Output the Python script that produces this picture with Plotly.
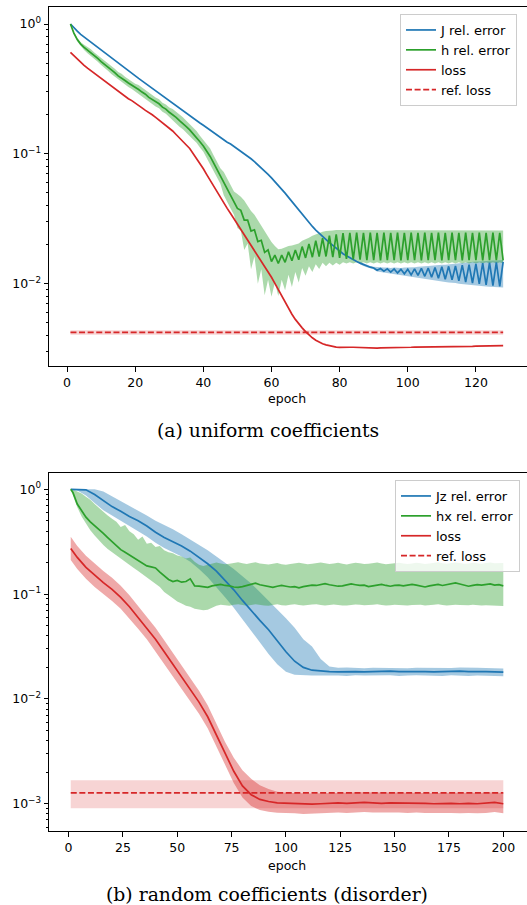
import plotly.graph_objects as go

# ---------------- (a) uniform coefficients ----------------
epochs_a = list(range(1, 129))

J_rel = [1.000, 0.933, 0.881, 0.832, 0.794, 0.759, 0.724, 0.692, 0.661, 0.631,
         0.603, 0.575, 0.550, 0.525, 0.501, 0.479, 0.457, 0.437, 0.417, 0.398,
         0.381, 0.365, 0.349, 0.334, 0.320, 0.306, 0.293, 0.281, 0.269, 0.257,
         0.246, 0.236, 0.225, 0.216, 0.207, 0.198, 0.189, 0.181, 0.173, 0.166,
         0.159, 0.152, 0.146, 0.139, 0.133, 0.128, 0.123, 0.119, 0.114, 0.110,
         0.105, 0.101, 0.0962, 0.0916, 0.0871, 0.0826, 0.0782, 0.0738, 0.0695, 0.0653,
         0.0612, 0.0573, 0.0535, 0.0498, 0.0462, 0.0429, 0.0397, 0.0368, 0.0341, 0.0317,
         0.0295, 0.0276, 0.0259, 0.0244, 0.0230, 0.0218, 0.0207, 0.0197, 0.0187, 0.0178,
         0.0170, 0.0164, 0.0158, 0.0153, 0.0148, 0.0144, 0.0140, 0.0137, 0.0134, 0.0132,
         0.0127, 0.0131, 0.0125, 0.0130, 0.0123, 0.0130, 0.0121, 0.0129, 0.0119, 0.0129,
         0.0117, 0.0130, 0.0116, 0.0131, 0.0114, 0.0132, 0.0112, 0.0133, 0.0110, 0.0135,
         0.0108, 0.0136, 0.0107, 0.0137, 0.0105, 0.0139, 0.0103, 0.0140, 0.0101, 0.0142,
         0.00995, 0.0144, 0.00980, 0.0145, 0.00966, 0.0146, 0.00955, 0.0147]

J_band_epochs = list(range(86, 129))
J_lo = [0.0141, 0.0137, 0.0134, 0.0131, 0.0129, 0.0124, 0.0123, 0.0122, 0.0121, 0.0120,
        0.0118, 0.0117, 0.0116, 0.0115, 0.0114, 0.0113, 0.0112, 0.0111, 0.0110, 0.0109,
        0.0108, 0.0107, 0.0106, 0.0105, 0.0104, 0.0103, 0.0102, 0.0101, 0.0101, 0.0100,
        0.00990, 0.00985, 0.00978, 0.00970, 0.00965, 0.00960, 0.00955, 0.00950, 0.00945, 0.00940,
        0.00938, 0.00935, 0.00935]
J_hi = [0.0147, 0.0143, 0.0140, 0.0137, 0.0135, 0.0134, 0.0134, 0.0133, 0.0133, 0.0132,
        0.0133, 0.0132, 0.0132, 0.0133, 0.0133, 0.0134, 0.0134, 0.0135, 0.0135, 0.0136,
        0.0137, 0.0138, 0.0138, 0.0139, 0.0140, 0.0140, 0.0141, 0.0142, 0.0142, 0.0143,
        0.0144, 0.0145, 0.0146, 0.0147, 0.0148, 0.0148, 0.0149, 0.0150, 0.0150, 0.0151,
        0.0151, 0.0152, 0.0152]

h_rel = [1.0, 0.851, 0.759, 0.700, 0.661, 0.631, 0.603, 0.569, 0.543, 0.513,
         0.490, 0.468, 0.442, 0.422, 0.398, 0.385, 0.367, 0.351, 0.339, 0.324,
         0.313, 0.299, 0.288, 0.272, 0.263, 0.251, 0.243, 0.229, 0.221, 0.209,
         0.200, 0.191, 0.180, 0.172, 0.162, 0.153, 0.143, 0.135, 0.124, 0.115,
         0.105, 0.0955, 0.0851, 0.0759, 0.0676, 0.0603, 0.0537, 0.0479, 0.0427, 0.0380,
         0.0367, 0.0309, 0.0309, 0.0254, 0.0260, 0.0211, 0.0216, 0.0174, 0.0182, 0.0148,
         0.0166, 0.0143, 0.0166, 0.0146, 0.0176, 0.0150, 0.0182, 0.0153, 0.0193, 0.0158,
         0.0202, 0.0160, 0.0214, 0.0162, 0.0224, 0.0162, 0.0234, 0.0160, 0.0240, 0.0158,
         0.0245, 0.0155, 0.0246, 0.0154, 0.0247, 0.0153, 0.0246, 0.0152, 0.0247, 0.0152,
         0.0246, 0.0151, 0.0247, 0.0152, 0.0246, 0.0152, 0.0247, 0.0151, 0.0246, 0.0152,
         0.0247, 0.0152, 0.0246, 0.0151, 0.0247, 0.0152, 0.0246, 0.0152, 0.0247, 0.0151,
         0.0246, 0.0152, 0.0247, 0.0152, 0.0246, 0.0151, 0.0247, 0.0152, 0.0246, 0.0152,
         0.0247, 0.0151, 0.0246, 0.0152, 0.0247, 0.0152, 0.0246, 0.0151]

h_hi = [1.0, 0.871, 0.785, 0.724, 0.692, 0.668, 0.638, 0.603, 0.575, 0.543,
        0.525, 0.502, 0.474, 0.452, 0.427, 0.413, 0.393, 0.376, 0.363, 0.347,
        0.339, 0.324, 0.312, 0.295, 0.285, 0.272, 0.263, 0.248, 0.240, 0.227,
        0.222, 0.212, 0.200, 0.191, 0.180, 0.170, 0.159, 0.150, 0.138, 0.128,
        0.121, 0.110, 0.0977, 0.0871, 0.0776, 0.0725, 0.0645, 0.0576, 0.0513, 0.0490,
        0.0468, 0.0437, 0.0398, 0.0363, 0.0339, 0.0309, 0.0282, 0.0257, 0.0229, 0.0209,
        0.0195, 0.0184, 0.0186, 0.0191, 0.0195, 0.0197, 0.0200, 0.0204, 0.0214, 0.0219,
        0.0226, 0.0234, 0.0240, 0.0245, 0.0251, 0.0254, 0.0257, 0.0257, 0.0259, 0.0259,
        0.0260, 0.0257, 0.0260, 0.0257, 0.0260, 0.0257, 0.0260, 0.0257, 0.0260, 0.0257,
        0.0260, 0.0257, 0.0260, 0.0257, 0.0260, 0.0257, 0.0260, 0.0257, 0.0260, 0.0257,
        0.0260, 0.0257, 0.0260, 0.0257, 0.0260, 0.0257, 0.0260, 0.0257, 0.0260, 0.0257,
        0.0260, 0.0257, 0.0260, 0.0257, 0.0260, 0.0257, 0.0260, 0.0257, 0.0260, 0.0257,
        0.0260, 0.0257, 0.0260, 0.0257, 0.0260, 0.0257, 0.0260, 0.0257]

h_lo = [1.0, 0.832, 0.733, 0.676, 0.631, 0.596, 0.569, 0.537, 0.513, 0.484,
        0.457, 0.437, 0.412, 0.394, 0.371, 0.359, 0.342, 0.327, 0.316, 0.302,
        0.289, 0.276, 0.266, 0.251, 0.243, 0.232, 0.224, 0.211, 0.204, 0.193,
        0.180, 0.172, 0.162, 0.155, 0.146, 0.138, 0.129, 0.122, 0.112, 0.104,
        0.0915, 0.0832, 0.0741, 0.0661, 0.0589, 0.0479, 0.0426, 0.0380, 0.0339, 0.0269,
        0.0257, 0.0182, 0.0204, 0.0129, 0.0162, 0.0100, 0.0129, 0.00813, 0.0107, 0.00794,
        0.0102, 0.00804, 0.0107, 0.00891, 0.0117, 0.00944, 0.0123, 0.0102, 0.0132, 0.0115,
        0.0136, 0.0123, 0.0141, 0.0130, 0.0145, 0.0136, 0.0145, 0.0138, 0.0145, 0.0140,
        0.0146, 0.0143, 0.0146, 0.0143, 0.0146, 0.0143, 0.0146, 0.0143, 0.0146, 0.0143,
        0.0146, 0.0143, 0.0146, 0.0143, 0.0146, 0.0143, 0.0146, 0.0143, 0.0146, 0.0143,
        0.0146, 0.0143, 0.0146, 0.0143, 0.0146, 0.0143, 0.0146, 0.0143, 0.0146, 0.0143,
        0.0146, 0.0143, 0.0146, 0.0143, 0.0146, 0.0143, 0.0146, 0.0143, 0.0146, 0.0143,
        0.0146, 0.0143, 0.0146, 0.0143, 0.0146, 0.0143, 0.0146, 0.0143]

loss_a = [0.605, 0.569, 0.537, 0.507, 0.481, 0.457, 0.437, 0.417, 0.398, 0.380,
          0.363, 0.347, 0.331, 0.316, 0.302, 0.288, 0.279, 0.266, 0.257, 0.245,
          0.234, 0.226, 0.216, 0.209, 0.200, 0.191, 0.182, 0.174, 0.166, 0.158,
          0.150, 0.141, 0.133, 0.126, 0.117, 0.110, 0.101, 0.0923, 0.0841, 0.0767,
          0.0692, 0.0624, 0.0562, 0.0507, 0.0457, 0.0417, 0.0380, 0.0347, 0.0316, 0.0288,
          0.0263, 0.0240, 0.0219, 0.0200, 0.0182, 0.0166, 0.0151, 0.0138, 0.0124, 0.0112,
          0.01005, 0.00899, 0.00805, 0.00721, 0.00646, 0.00582, 0.00531, 0.00490, 0.00457, 0.00427,
          0.00403, 0.00383, 0.00367, 0.00355, 0.00345, 0.00338, 0.00333, 0.00328, 0.00325, 0.00323,
          0.00322, 0.00322, 0.00324, 0.00324, 0.00323, 0.00321, 0.00319, 0.00318, 0.00318, 0.00318,
          0.00319, 0.00320, 0.00320, 0.00321, 0.00321, 0.00322, 0.00322, 0.00323, 0.00323, 0.00324,
          0.00324, 0.00325, 0.00325, 0.00325, 0.00326, 0.00326, 0.00326, 0.00327, 0.00327, 0.00327,
          0.00328, 0.00328, 0.00328, 0.00328, 0.00329, 0.00329, 0.00329, 0.00329, 0.00329, 0.00330,
          0.00330, 0.00331, 0.00331, 0.00332, 0.00332, 0.00332, 0.00333, 0.00333]

ref_loss_a = 0.00421
ref_loss_a_lo = 0.00405
ref_loss_a_hi = 0.00438

# ---------------- (b) random coefficients (disorder) ----------------
epochs_b4 = [1] + list(range(4, 201, 4))
epochs_b2 = [1] + list(range(2, 201, 2))

Jz_rel = [1.0, 1.0, 0.989, 0.891, 0.776, 0.684, 0.617, 0.550, 0.501, 0.447,
          0.389, 0.347, 0.316, 0.288, 0.257, 0.224, 0.195, 0.166, 0.135, 0.110,
          0.0871, 0.0692, 0.0562, 0.0457, 0.0355, 0.0282, 0.0229, 0.0200, 0.0188, 0.0184,
          0.0182, 0.0181, 0.0183, 0.0182, 0.0181, 0.0183, 0.0182, 0.0184, 0.0182, 0.0181,
          0.0183, 0.0182, 0.0181, 0.0183, 0.0182, 0.0184, 0.0182, 0.0183, 0.0182, 0.0181,
          0.0180]
Jz_hi = [1.0, 1.0, 1.0, 1.0, 0.955, 0.861, 0.776, 0.692, 0.631, 0.562,
         0.501, 0.457, 0.417, 0.372, 0.331, 0.295, 0.263, 0.229, 0.200, 0.174,
         0.148, 0.126, 0.105, 0.0871, 0.0724, 0.0589, 0.0479, 0.0372, 0.0316, 0.0240,
         0.0204, 0.0198, 0.0199, 0.0197, 0.0196, 0.0198, 0.0197, 0.0199, 0.0197, 0.0196,
         0.0198, 0.0197, 0.0196, 0.0198, 0.0197, 0.0199, 0.0197, 0.0198, 0.0197, 0.0196,
         0.0195]
Jz_lo = [1.0, 0.977, 0.871, 0.741, 0.631, 0.562, 0.501, 0.447, 0.398, 0.355,
         0.309, 0.275, 0.251, 0.229, 0.204, 0.174, 0.145, 0.117, 0.0933, 0.0741,
         0.0575, 0.0447, 0.0347, 0.0269, 0.0214, 0.0182, 0.0170, 0.0168, 0.0167, 0.0167,
         0.0166, 0.0167, 0.0166, 0.0168, 0.0167, 0.0166, 0.0167, 0.0168, 0.0166, 0.0167,
         0.0168, 0.0166, 0.0167, 0.0166, 0.0168, 0.0167, 0.0166, 0.0167, 0.0166, 0.0166,
         0.0165]

hx_rel = [1.0, 0.933, 0.724, 0.617, 0.543, 0.490, 0.452, 0.417, 0.380, 0.347,
          0.316, 0.288, 0.266, 0.251, 0.237, 0.224, 0.211, 0.200, 0.186, 0.182,
          0.178, 0.162, 0.151, 0.138, 0.132, 0.135, 0.130, 0.132, 0.140, 0.120,
          0.119, 0.117, 0.116, 0.120, 0.123, 0.124, 0.121, 0.120, 0.117, 0.116,
          0.118,
          0.121, 0.124, 0.127, 0.123, 0.120, 0.118, 0.116, 0.119, 0.121, 0.119,
          0.117, 0.118, 0.115, 0.118, 0.120, 0.122, 0.121, 0.124, 0.126, 0.123,
          0.121, 0.119, 0.120, 0.122, 0.125, 0.123, 0.121, 0.122, 0.118, 0.120,
          0.123, 0.124, 0.121, 0.119, 0.121, 0.122, 0.120, 0.121, 0.124, 0.122,
          0.119, 0.117, 0.120, 0.122, 0.124, 0.121, 0.123, 0.126, 0.128, 0.125,
          0.121, 0.119, 0.121, 0.123, 0.122, 0.124, 0.125, 0.122, 0.123, 0.120]
hx_hi = [1.0, 1.0, 0.955, 0.912, 0.851, 0.794, 0.724, 0.661, 0.617, 0.562,
         0.525, 0.490, 0.437, 0.457, 0.398, 0.372, 0.331, 0.355, 0.302, 0.309,
         0.282, 0.288, 0.263, 0.251, 0.245, 0.234, 0.229, 0.219, 0.224, 0.204,
         0.191, 0.186, 0.191, 0.195, 0.200, 0.196, 0.193, 0.195, 0.199, 0.202,
         0.197,
         0.194, 0.198, 0.201, 0.196, 0.194, 0.192, 0.195, 0.198, 0.193, 0.191,
         0.194, 0.197, 0.199, 0.196, 0.193, 0.195, 0.198, 0.200, 0.197, 0.194,
         0.196, 0.199, 0.195, 0.192, 0.196, 0.199, 0.197, 0.194, 0.195, 0.198,
         0.200, 0.196, 0.193, 0.195, 0.197, 0.199, 0.196, 0.194, 0.196, 0.199,
         0.197, 0.194, 0.196, 0.198, 0.201, 0.197, 0.195, 0.198, 0.200, 0.198,
         0.195, 0.196, 0.199, 0.197, 0.195, 0.198, 0.200, 0.197, 0.196, 0.198]
hx_lo = [1.0, 0.891, 0.676, 0.550, 0.468, 0.407, 0.363, 0.324, 0.295, 0.269,
         0.251, 0.234, 0.219, 0.204, 0.191, 0.178, 0.166, 0.155, 0.145, 0.135,
         0.126, 0.117, 0.105, 0.0977, 0.0912, 0.0851, 0.0813, 0.0776, 0.0759, 0.0724,
         0.0708, 0.0700, 0.0708, 0.0741, 0.0776, 0.0794, 0.0785, 0.0776, 0.0790, 0.0801,
         0.0786,
         0.0775, 0.0789, 0.0803, 0.0792, 0.0781, 0.0776, 0.0788, 0.0799, 0.0785, 0.0779,
         0.0791, 0.0800, 0.0787, 0.0778, 0.0784, 0.0795, 0.0801, 0.0789, 0.0780, 0.0786,
         0.0797, 0.0793, 0.0781, 0.0777, 0.0788, 0.0798, 0.0790, 0.0782, 0.0785, 0.0794,
         0.0800, 0.0788, 0.0779, 0.0783, 0.0792, 0.0797, 0.0786, 0.0780, 0.0787, 0.0795,
         0.0790, 0.0781, 0.0784, 0.0793, 0.0799, 0.0788, 0.0779, 0.0785, 0.0794, 0.0789,
         0.0780, 0.0783, 0.0791, 0.0787, 0.0778, 0.0782, 0.0790, 0.0785, 0.0776, 0.0772]

loss_b = [0.273, 0.224, 0.180, 0.151, 0.129, 0.111, 0.0933, 0.0759, 0.0603, 0.0479,
          0.0372, 0.0282, 0.0214, 0.0162, 0.0123, 0.00933, 0.00676, 0.00457, 0.00302, 0.00204,
          0.00148, 0.00122, 0.00110, 0.00105, 0.00102, 0.00101, 0.00100, 0.000985, 0.000990, 0.00100,
          0.00101, 0.00102, 0.00101, 0.00102, 0.00103, 0.00102, 0.00101, 0.00102, 0.00102, 0.00101,
          0.00102, 0.00101, 0.00100, 0.00101, 0.00101, 0.00100, 0.00101, 0.00100, 0.00101, 0.00103,
          0.00100]
loss_b_hi = [0.352, 0.288, 0.232, 0.195, 0.166, 0.143, 0.120, 0.0977, 0.0777, 0.0617,
             0.0479, 0.0363, 0.0276, 0.0209, 0.0158, 0.0120, 0.00871, 0.00589, 0.00389, 0.00275,
             0.00209, 0.00173, 0.00150, 0.00138, 0.00130, 0.00127,
             0.00126, 0.00124, 0.00125, 0.00126, 0.00127, 0.00128, 0.00127, 0.00128, 0.00129, 0.00128,
             0.00127, 0.00128, 0.00128, 0.00127, 0.00128, 0.00127, 0.00126, 0.00127, 0.00127, 0.00126,
             0.00127, 0.00126, 0.00127, 0.00129, 0.00126]
loss_b_lo = [0.212, 0.174, 0.140, 0.117, 0.100, 0.0861, 0.0724, 0.0589, 0.0468, 0.0372,
             0.0289, 0.0219, 0.0166, 0.0126, 0.00955, 0.00724, 0.00525, 0.00355, 0.00234, 0.00158,
             0.00115, 0.000950, 0.000870, 0.000840, 0.000820, 0.000815,
             0.000810, 0.000798, 0.000802, 0.000810, 0.000818, 0.000826, 0.000818, 0.000826, 0.000834, 0.000826,
             0.000818, 0.000826, 0.000826, 0.000818, 0.000826, 0.000818, 0.000810, 0.000818, 0.000818, 0.000810,
             0.000818, 0.000810, 0.000818, 0.000834, 0.000810]

ref_loss_b = 0.00127
ref_loss_b_lo = 0.000904
ref_loss_b_hi = 0.00168

# ---------------- styling ----------------
BLUE, GREEN, RED = "#1f77b4", "#2ca02c", "#d62728"
BLUE_BAND = "rgba(31,119,180,0.4)"
GREEN_BAND = "rgba(44,160,44,0.4)"
RED_BAND = "rgba(214,39,40,0.4)"
REF_BAND = "rgba(214,39,40,0.2)"
FONT = "DejaVu Sans"
LW = 1.7

fig = go.Figure()


def band(x, lo, hi, color, xa, ya):
    fig.add_trace(go.Scatter(
        x=list(x) + list(x)[::-1], y=list(hi) + list(lo)[::-1],
        fill="toself", fillcolor=color, line=dict(width=0),
        mode="lines", showlegend=False, hoverinfo="skip", xaxis=xa, yaxis=ya))


def line(x, y, color, name, xa, ya, legend, dash="solid"):
    fig.add_trace(go.Scatter(
        x=x, y=y, mode="lines", name=name,
        line=dict(color=color, width=LW, dash=dash),
        xaxis=xa, yaxis=ya, legend=legend))


# panel (a)
band(J_band_epochs, J_lo, J_hi, BLUE_BAND, "x", "y")
band(epochs_a, h_lo, h_hi, GREEN_BAND, "x", "y")
ends_a = [epochs_a[0], epochs_a[-1]]
band(ends_a, [ref_loss_a_lo] * 2, [ref_loss_a_hi] * 2, REF_BAND, "x", "y")
line(epochs_a, J_rel, BLUE, "J rel. error", "x", "y", "legend")
line(epochs_a, h_rel, GREEN, "h rel. error", "x", "y", "legend")
line(epochs_a, loss_a, RED, "loss", "x", "y", "legend")
line(ends_a, [ref_loss_a] * 2, RED, "ref. loss", "x", "y", "legend", dash="6px,2.6px")

# panel (b)
band(epochs_b4, Jz_lo, Jz_hi, BLUE_BAND, "x2", "y2")
band(epochs_b2, hx_lo, hx_hi, GREEN_BAND, "x2", "y2")
band(epochs_b4, loss_b_lo, loss_b_hi, RED_BAND, "x2", "y2")
ends_b = [epochs_b4[0], epochs_b4[-1]]
band(ends_b, [ref_loss_b_lo] * 2, [ref_loss_b_hi] * 2, REF_BAND, "x2", "y2")
line(epochs_b4, Jz_rel, BLUE, "Jz rel. error", "x2", "y2", "legend2")
line(epochs_b2, hx_rel, GREEN, "hx rel. error", "x2", "y2", "legend2")
line(epochs_b4, loss_b, RED, "loss", "x2", "y2", "legend2")
line(ends_b, [ref_loss_b] * 2, RED, "ref. loss", "x2", "y2", "legend2", dash="6px,2.6px")

W, H = 527, 905
L = 49


def py(p):
    return 1 - p / H


def px(p):
    return (p - L) / (W - L)


tickfont = dict(family=FONT, size=12.5, color="black")
common_x = dict(ticks="outside", ticklen=4.5, tickwidth=1, tickcolor="black",
                showline=True, linecolor="black", linewidth=1, mirror=True,
                showgrid=False, zeroline=False, tickfont=tickfont)
common_y = dict(type="log", ticks="outside", ticklen=4.5, tickwidth=1, tickcolor="black",
                showline=True, linecolor="black", linewidth=1, mirror=False,
                showgrid=False, zeroline=False, tickfont=tickfont)

minor_a = [m * d for d in (0.001, 0.01, 0.1) for m in range(2, 10)]
minor_b = [m * d for d in (0.0001, 0.001, 0.01, 0.1) for m in range(2, 10)]

legend_style = dict(bgcolor="rgba(255,255,255,0.8)", bordercolor="#cccccc", borderwidth=1,
                    font=dict(family=FONT, size=13, color="black"))

fig.update_layout(
    width=W, height=H,
    margin=dict(l=L, r=0, t=0, b=0),
    paper_bgcolor="white", plot_bgcolor="white",
    font=dict(family=FONT, size=12.5, color="black"),
    xaxis=dict(domain=[0, 1], anchor="y", range=[-5.3, 135],
               tickvals=[0, 20, 40, 60, 80, 100, 120], **common_x),
    yaxis=dict(domain=[py(366), py(7)], anchor="x", range=[-2.634, 0.131],
               tickvals=[1, 0.1, 0.01],
               ticktext=["10<sup>0</sup>", "10<sup>\u22121</sup>", "10<sup>\u22122</sup>"],
               minor=dict(tickvals=minor_a, ticks="outside", ticklen=2.5, tickwidth=0.8,
                          tickcolor="black", showgrid=False),
               **common_y),
    xaxis2=dict(domain=[0, 1], anchor="y2", range=[-9, 210.9],
                tickvals=[0, 25, 50, 75, 100, 125, 150, 175, 200], **common_x),
    yaxis2=dict(domain=[py(831), py(473.3)], anchor="x2", range=[-3.26, 0.153],
                tickvals=[1, 0.1, 0.01, 0.001],
                ticktext=["10<sup>0</sup>", "10<sup>\u22121</sup>", "10<sup>\u22122</sup>",
                          "10<sup>\u22123</sup>"],
                minor=dict(tickvals=minor_b, ticks="outside", ticklen=2.5, tickwidth=0.8,
                           tickcolor="black", showgrid=False),
                **common_y),
    legend=dict(x=px(400), xanchor="left", y=py(14), yanchor="top", **legend_style),
    legend2=dict(x=px(395), xanchor="left", y=py(480), yanchor="top", **legend_style),
    annotations=[
        dict(text="epoch", x=px(286.7), y=py(399), xref="paper", yref="paper",
             showarrow=False, xanchor="center", yanchor="middle",
             font=dict(family=FONT, size=12.5, color="black")),
        dict(text="epoch", x=px(286.7), y=py(865), xref="paper", yref="paper",
             showarrow=False, xanchor="center", yanchor="middle",
             font=dict(family=FONT, size=12.5, color="black")),
        dict(text="(a) uniform coefficients", x=px(267.8), y=py(430), xref="paper",
             yref="paper", showarrow=False, xanchor="center", yanchor="middle",
             font=dict(family="DejaVu Serif", size=18.8, color="black")),
        dict(text="(b) random coefficients (disorder)", x=px(267.2), y=py(894),
             xref="paper", yref="paper", showarrow=False, xanchor="center",
             yanchor="middle", font=dict(family="DejaVu Serif", size=18.8, color="black")),
    ],
)

fig.write_html("out.html", config={"displayModeBar": False},
               post_script="document.body.style.margin='0px';")
